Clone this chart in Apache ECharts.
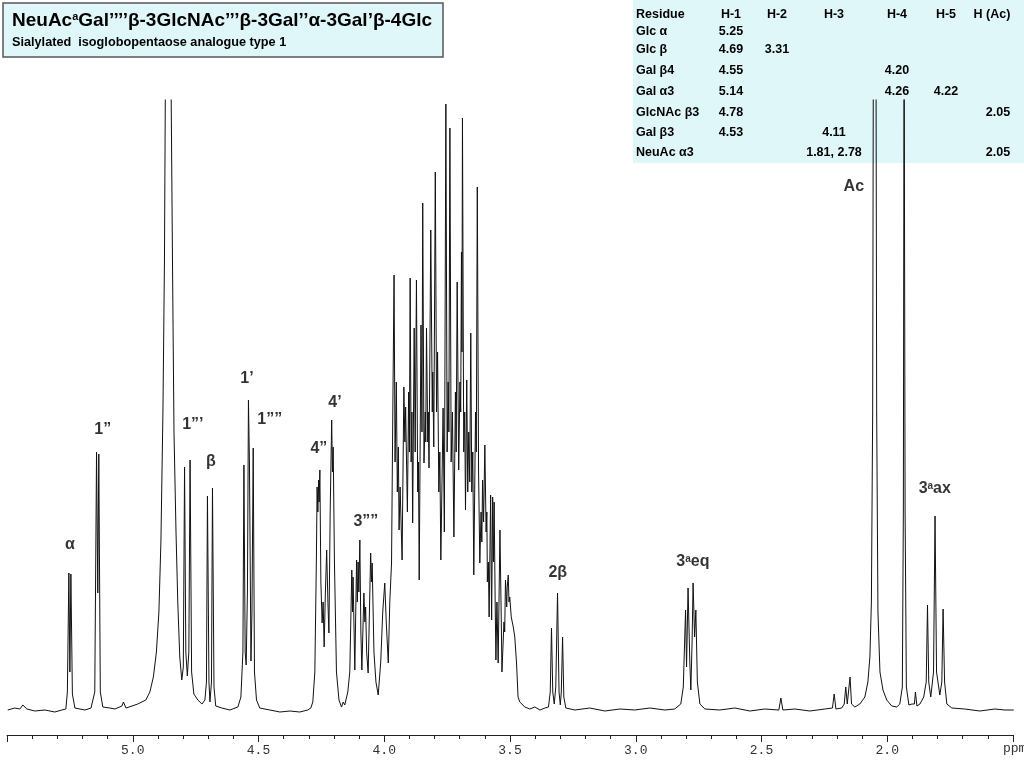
<!DOCTYPE html>
<html>
<head>
<meta charset="utf-8">
<title>NeuAc isoglobopentaose 1H NMR</title>
<script src="https://cdn.jsdelivr.net/npm/echarts@6/dist/echarts.min.js"></script>
<style>
  html, body { margin: 0; padding: 0; background: #fff; }
  #main { width: 1024px; height: 768px; }
</style>
</head>
<body>
<div id="main"></div>
<script>
// chemical shift (ppm) of each traced point
var shiftPpm = [
  5.497,5.469,5.449,5.437,5.421,5.389,5.349,5.310,5.282,5.266,
  5.260,5.254,5.250,5.246,5.240,5.230,5.210,5.190,5.166,
  5.151,5.144,5.139,5.135,5.129,5.119,5.091,5.071,5.043,5.037,5.027,5.003,
  4.980,4.948,4.932,4.918,4.906,4.896,4.888,4.880,4.874,4.870,4.860,4.848,4.842,4.836,4.828,4.821,4.813,4.805,
  4.799,4.794,4.789,4.783,4.777,4.772,4.766,4.757,4.741,4.725,4.713,
  4.707,4.703,4.697,4.693,4.687,4.683,4.677,4.670,4.646,4.614,4.582,
  4.570,4.562,4.558,4.553,4.549,4.544,4.540,4.536,4.530,4.526,4.521,4.516,4.508,4.495,
  4.455,4.415,4.375,4.336,4.304,4.292,4.284,4.276,
  4.270,4.267,4.264,4.261,4.259,4.256,4.252,4.247,4.243,4.239,4.234,4.229,4.224,4.220,4.215,4.209,4.206,4.203,4.198,4.190,4.180,4.170,4.163,4.157,4.145,
  4.137,4.129,4.126,4.124,4.117,4.110,4.107,4.104,4.101,4.097,4.093,4.089,4.081,4.077,4.074,4.070,4.064,4.054,4.051,4.048,4.041,4.033,4.024,4.014,4.006,3.998,3.992,3.984,3.978,3.971,3.966,3.961,
  3.957,3.952,3.948,3.944,3.941,3.937,3.929,3.922,3.918,3.915,3.908,3.903,3.900,3.897,3.893,3.890,3.887,3.881,3.877,3.872,3.867,3.864,3.861,3.854,3.850,3.847,
  3.842,3.837,3.835,3.832,3.827,3.825,3.822,3.815,3.809,3.807,3.803,3.797,3.792,3.788,3.783,3.779,3.775,3.766,3.761,3.755,3.750,3.746,3.743,3.739,3.734,3.729,3.723,
  3.717,3.714,3.710,3.704,3.699,3.696,3.693,3.691,3.689,3.684,3.680,3.677,3.672,3.668,3.664,3.660,3.656,3.652,3.648,3.644,3.637,3.634,3.630,3.625,3.620,
  3.615,3.612,3.609,3.605,3.600,3.595,3.592,3.590,3.586,3.583,3.577,3.573,3.569,3.566,3.563,3.559,3.556,3.552,3.547,3.540,3.534,3.532,
  3.524,3.521,3.518,3.513,3.511,3.507,3.504,3.501,3.495,3.487,3.481,3.474,3.468,3.461,3.441,3.421,3.401,3.381,3.361,
  3.347,3.340,3.335,3.330,3.324,3.318,3.311,3.305,3.300,3.296,3.291,3.286,3.278,
  3.242,3.183,3.123,3.063,3.004,2.944,2.884,2.845,2.821,
  2.811,2.802,2.798,2.792,2.785,2.781,2.776,2.772,2.766,2.761,2.755,2.745,2.725,
  2.666,2.606,2.546,2.487,2.431,2.423,2.415,2.367,2.308,2.248,2.218,2.211,2.204,
  2.181,2.171,2.165,2.159,2.153,2.148,2.142,2.129,2.109,2.089,2.077,2.069,2.063,2.058,2.055,2.045,2.042,2.037,2.029,2.017,2.002,1.982,1.962,
  1.950,1.940,1.936,1.933,1.929,1.924,1.914,1.902,1.892,1.888,1.882,1.870,1.855,
  1.845,1.840,1.835,1.827,1.816,1.810,1.804,1.791,1.783,1.778,1.772,1.763,1.743,
  1.692,1.632,1.572,1.532,1.497
];
// signal intensity (arbitrary units) at each point above
var intensity = [
  2,4,3,7,3,1,2,0,2,3,
  20,139,40,138,18,4,3,2,4,
  20,260,119,258,20,5,4,3,6,10,4,6,
  8,12,20,35,60,100,170,300,450,640,700,640,450,280,180,110,55,32,
  45,245,60,36,60,252,40,18,12,8,12,
  30,216,30,10,30,224,25,6,4,2,5,
  15,60,247,60,47,120,312,250,51,100,264,40,12,4,
  2,0,1,0,2,4,10,40,
  150,225,200,232,210,242,130,89,110,65,120,162,110,79,200,292,240,265,150,40,12,5,10,7,20,
  40,142,100,135,42,152,110,150,120,172,80,42,119,90,105,60,39,159,130,149,60,30,17,50,100,129,90,49,110,149,300,437,
  250,330,220,265,182,225,152,325,270,305,200,320,260,434,250,300,189,384,260,432,220,250,132,387,280,509,
  249,300,270,384,270,300,244,482,300,340,265,540,300,360,220,260,152,304,180,608,260,330,280,584,250,300,175,
  320,260,430,242,330,300,460,360,594,260,300,202,332,220,280,230,379,220,260,137,300,260,525,240,149,
  200,170,232,190,267,180,200,130,150,95,217,92,215,150,210,110,52,110,49,182,80,40,
  90,80,132,105,125,137,110,115,95,85,75,49,15,10,5,3,5,2,4,
  5,20,84,20,8,25,119,20,7,20,75,15,4,
  2,4,1,3,2,4,2,3,8,
  25,102,45,124,50,22,70,129,75,102,30,8,3,
  2,4,1,3,2,14,2,3,1,3,4,18,3,
  4,8,25,8,10,35,8,5,8,15,30,55,110,300,700,700,300,100,40,22,12,6,5,
  8,25,200,700,200,25,7,8,8,20,6,8,15,
  30,107,30,15,40,196,40,17,30,103,30,8,4,
  3,1,3,2,2
];

// peak assignments written above the signals
var peakNames = ['α', '1”', '1”’', 'β', '1’', '1””', '4”', '4’', '3””', '2β', '3{s|a}eq', 'Ac', '3{s|a}ax'];
var peakPpm   = [5.250, 5.119, 4.761, 4.689, 4.546, 4.455, 4.260, 4.196, 4.073, 3.310, 2.773, 2.133, 1.811];
var peakLevel = [167, 282, 287, 250, 333, 292, 263, 309, 190, 139, 150, 525, 223];

// assignment table
var tableHeader = ['Residue', 'H-1', 'H-2', 'H-3', 'H-4', 'H-5', 'H (Ac)'];
var residues = ['Glc α', 'Glc β', 'Gal β4', 'Gal α3', 'GlcNAc β3', 'Gal β3', 'NeuAc α3'];
var shiftH1  = ['5.25', '4.69', '4.55', '5.14', '4.78', '4.53', ''];
var shiftH2  = ['', '3.31', '', '', '', '', ''];
var shiftH3  = ['', '', '', '', '', '4.11', '1.81, 2.78'];
var shiftH4  = ['', '', '4.20', '4.26', '', '', ''];
var shiftH5  = ['', '', '', '4.22', '', '', ''];
var shiftAc  = ['', '', '', '', '2.05', '', '2.05'];

var spectrum = shiftPpm.map(function (p, i) { return [p, intensity[i]]; });
var peakData = peakNames.map(function (n, i) {
    return { name: n, value: [peakPpm[i], peakLevel[i]] };
});

var boldFont = 'Liberation Sans, Arial, sans-serif';
var cyan = '#E0F7FA';

// table as graphic texts
var colX = [636, 731, 777, 834, 897, 946, 992];
var rowY = [15, 32, 50, 71, 92, 113, 133, 153];
var tableItems = [{
    type: 'rect', shape: { x: 633, y: 0, width: 391, height: 163 },
    style: { fill: cyan }
}];
function cell(txt, x, y, align) {
    tableItems.push({
        type: 'text', x: x, y: y,
        style: { text: txt, font: 'bold 12.5px ' + boldFont, fill: '#000',
                 textAlign: align, textVerticalAlign: 'middle' }
    });
}
tableHeader.forEach(function (h, j) {
    cell(h, colX[j], rowY[0], j === 0 ? 'left' : 'center');
});
var cols = [shiftH1, shiftH2, shiftH3, shiftH4, shiftH5, shiftAc];
residues.forEach(function (r, i) {
    cell(r, colX[0], rowY[i + 1], 'left');
    cols.forEach(function (c, j) {
        if (c[i]) cell(c[i], j === 5 ? 998 : colX[j + 1], rowY[i + 1], 'center');
    });
});

var chart = echarts.init(document.getElementById('main'));
var option = {
    animation: false,
    backgroundColor: '#fff',
    grid: { left: 7, right: 11, top: 100, bottom: 33 },
    xAxis: {
        type: 'value',
        inverse: true,
        min: 1.5,
        max: 5.5,
        interval: 0.5,
        axisLine: { onZero: false, lineStyle: { color: '#222', width: 1 } },
        axisTick: { length: 7, lineStyle: { color: '#222' } },
        minorTick: { show: true, splitNumber: 5, length: 4, lineStyle: { color: '#222' } },
        splitLine: { show: false },
        axisLabel: {
            margin: 9,
            fontFamily: 'Liberation Mono, DejaVu Sans Mono, monospace',
            fontSize: 13,
            color: '#333',
            formatter: function (v) {
                if (v >= 5.49 || v <= 1.51) return '';
                return v.toFixed(1);
            }
        }
    },
    yAxis: {
        type: 'value', min: -23, max: 612, show: false
    },
    series: [{
        type: 'line',
        data: spectrum,
        showSymbol: false,
        symbol: 'none',
        lineStyle: { color: '#111', width: 1 },
        clip: true,
        z: 2
    }, {
        type: 'scatter',
        data: peakData,
        symbolSize: 1,
        itemStyle: { color: 'rgba(0,0,0,0)' },
        label: {
            show: true,
            position: 'inside',
            formatter: function (p) { return p.name; },
            fontFamily: boldFont,
            fontWeight: 'bold',
            fontSize: 16,
            color: '#000',
            rich: {
                s: { fontSize: 10, fontWeight: 'bold', fontFamily: boldFont, verticalAlign: 'top', color: '#000' }
            }
        },
        z: 3
    }],
    graphic: [{
        type: 'rect', z: 100,
        shape: { x: 3, y: 3, width: 440, height: 54 },
        style: { fill: cyan, stroke: '#555', lineWidth: 1.5 }
    }, {
        type: 'text', z: 101, x: 12, y: 11,
        style: {
            text: 'NeuAc{s|a}Gal’’’’β-3GlcNAc’’’β-3Gal’’α-3Gal’β-4Glc',
            font: 'bold 19px ' + boldFont, fill: '#000',
            rich: { s: { fontSize: 11, fontWeight: 'bold', fontFamily: boldFont, verticalAlign: 'top', fill: '#000' } }
        }
    }, {
        type: 'text', z: 101, x: 12, y: 36,
        style: { text: 'Sialylated  isoglobopentaose analogue type 1', font: 'bold 12.7px ' + boldFont, fill: '#000' }
    }, {
        type: 'group', z: 100, children: tableItems
    }, {
        type: 'text', z: 101, x: 1003, y: 742,
        style: { text: 'ppm', font: '13px Liberation Mono, monospace', fill: '#333' }
    }]
};
chart.setOption(option);
</script>
</body>
</html>
